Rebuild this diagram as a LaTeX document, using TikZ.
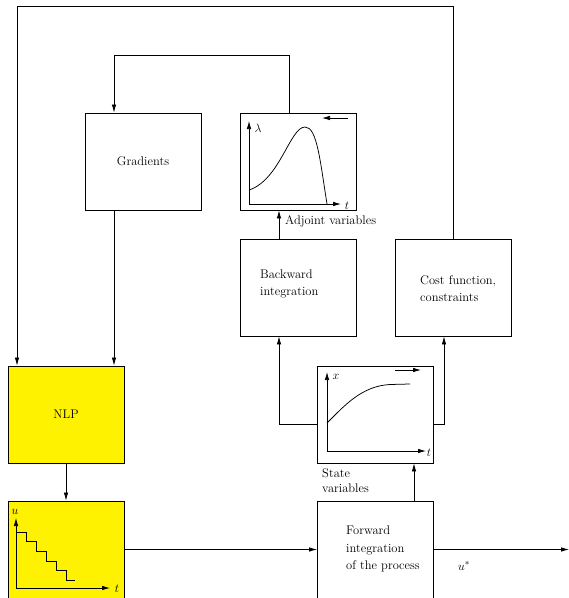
\documentclass[tikz,border=0pt]{standalone}
\usetikzlibrary{arrows.meta}
\begin{document}
\begin{tikzpicture}[x=1pt,y=-1pt,
  font=\fontsize{12.5}{15}\selectfont,
  blk/.style={draw,line width=0.8pt,minimum width=116pt,minimum height=97pt,inner sep=0pt},
  ylw/.style={blk,fill=yellow},
  conn/.style={line width=0.75pt,-{Latex[length=8pt,width=4.5pt]}},
  ax/.style={line width=0.75pt,-{Latex[length=8pt,width=4.5pt]}},
  txt/.style={anchor=west,inner sep=0pt,align=left}]
\useasboundingbox (0,0) rectangle (569,598);
% boxes
\node[blk] (grad) at (143,161.5) {Gradients};
\node[blk] (lam) at (298.5,161.5) {};
\node[blk] (back) at (298.5,287.5) {};
\node[blk] (cost) at (453.5,287.5) {};
\node[ylw] (nlp) at (66,414.5) {NLP};
\node[blk] (state) at (375.5,414.5) {};
\node[ylw] (ubox) at (66,549.5) {};
\node[blk] (fwd) at (375.5,549.5) {};
% texts
\node[txt] (tback) at (260,284) {Backward\\[2.5pt]integration};
\node[txt] (tcost) at (420,288.5) {Cost function,\\[2.5pt]constraints};
\node[txt] (tfwd) at (346,549) {Forward\\[2.5pt]integration\\[2.5pt]of the process};
\node[txt] (tadj) at (285,221) {Adjoint variables};
\node[txt] (tstate) at (322,480.5) {State\\variables};
\node (ustar) at (464,566) {$u^*$};
% connectors
\coordinate (top) at (0,6);
\coordinate (c2) at (17,6);
\draw[conn] (cost.north) -- (cost.north |- top) -- (c2) -- (c2 |- nlp.north);
\coordinate (l1) at (289,55);
\coordinate (l2) at (114,55);
\draw[conn] (lam.north -| l1) -- (l1) -- (l2) -- (l2 |- grad.north);
\draw[conn] (grad.south -| l2) -- (l2 |- nlp.north);
\draw[conn] (nlp.south) -- (ubox.north);
\draw[conn] (ubox.east) -- (fwd.west);
\coordinate (out) at (569,549.5);
\draw[conn] (fwd.east) -- (out);
\coordinate (f1) at (414,0);
\draw[conn] (fwd.north -| f1) -- (state.south -| f1);
\coordinate (s1) at (279,424);
\coordinate (s2) at (444,424);
\draw[conn] (state.west |- s1) -- (s1) -- (s1 |- back.south);
\draw[conn] (state.east |- s2) -- (s2) -- (s2 |- cost.south);
\draw[conn] (back.north -| s1) -- (lam.south -| s1);
% lambda plot
\draw[ax] (249,204) -- (249,121);
\draw[ax] (249,204) -- (341,204);
\node at (258,128) {$\lambda$};
\node at (347,206) {$t$};
\draw[line width=0.75pt] (249,190) .. controls (280,180) and (290,127) .. (305,127) .. controls (317,127) and (320,160) .. (327,204);
\draw[ax] (348,118) -- (322,118);
% state plot
\draw[ax] (327,451) -- (327,372);
\draw[ax] (327,451) -- (426,451);
\node at (336,377) {$x$};
\node at (429,453) {$t$};
\draw[line width=0.75pt] (327,423) .. controls (345,405) and (362,386) .. (390,384.5) -- (410,384);
\draw[ax] (395,370) -- (421,370);
% u plot
\draw[ax] (16,588) -- (16,518);
\draw[ax] (16,588) -- (110,588);
\node at (15,512) {$u$};
\node at (117,589) {$t$};
\draw[line width=0.75pt] (16,532) -- (26,532) -- (26,541) -- (36,541) -- (36,551) -- (46,551) -- (46,561) -- (56,561) -- (56,570) -- (66,570) -- (66,580) -- (75,580);
\end{tikzpicture}
\end{document}
